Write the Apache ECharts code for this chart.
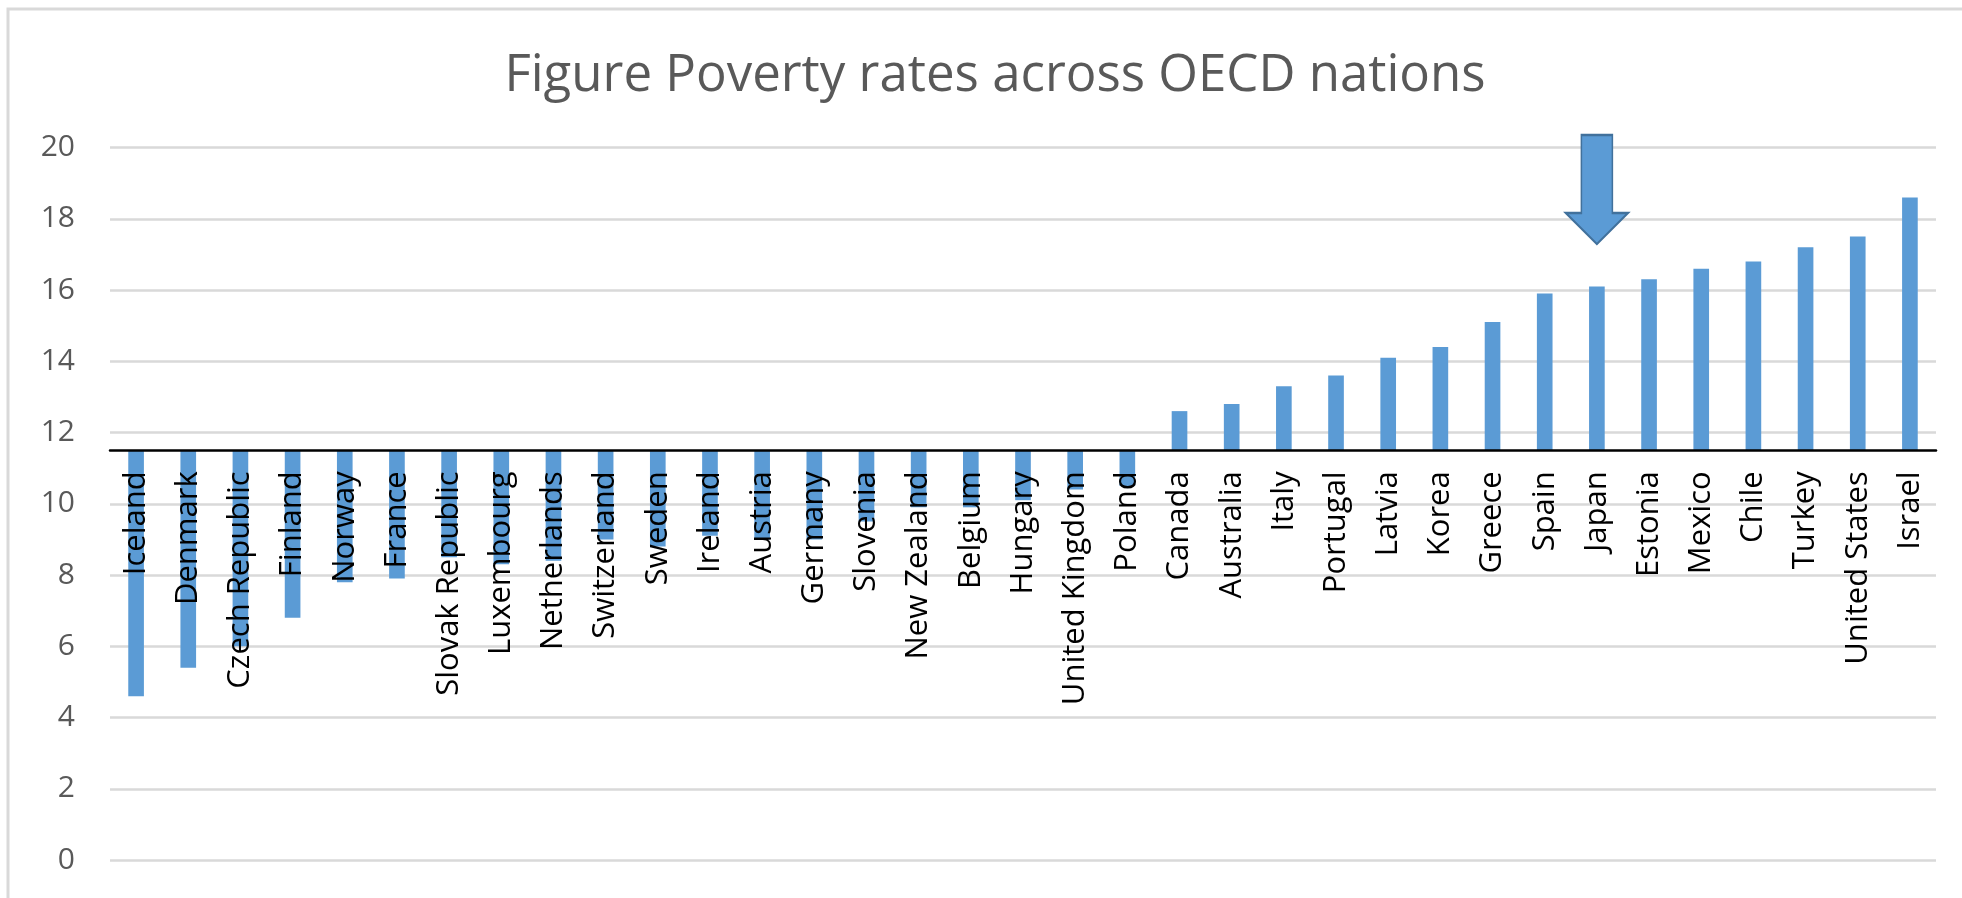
<!DOCTYPE html>
<html>
<head>
<meta charset="utf-8">
<script src="https://cdn.jsdelivr.net/npm/echarts@6/dist/echarts.min.js"></script>
<style>
html,body{margin:0;padding:0;background:#fff;}
#c{width:1962px;height:898px;}
</style>
</head>
<body>
<div id="c"></div>
<script>
// ---- data ----
const categories = ['Iceland','Denmark','Czech Republic','Finland','Norway','France','Slovak Republic','Luxembourg','Netherlands','Switzerland','Sweden','Ireland','Austria','Germany','Slovenia','New Zealand','Belgium','Hungary','United Kingdom','Poland','Canada','Australia','Italy','Portugal','Latvia','Korea','Greece','Spain','Japan','Estonia','Mexico','Chile','Turkey','United States','Israel'];
const povertyRates = [4.6,5.4,6.0,6.8,7.8,7.9,8.5,8.3,8.4,9.0,8.8,9.1,9.0,9.0,9.5,9.9,9.9,10.1,10.4,10.5,12.6,12.8,13.3,13.6,14.1,14.4,15.1,15.9,16.1,16.3,16.6,16.8,17.2,17.5,18.6];
const yTicks = [0,2,4,6,8,10,12,14,16,18,20];
const baselineValue = 11.5;          // value where the category axis crosses
const arrowCategory = 'Japan';
const arrowValue = 18.82;            // vertical centre of the arrow annotation
const titleText = 'Figure Poverty rates across OECD nations';

// ---- layout ----
const W = 1962, H = 898;
const gridTop = 147.5, gridBottom = 38, gridLeft = 110, gridRight = 26;
const gridH = H - gridTop - gridBottom;
const yMin = yTicks[0], yMax = yTicks[yTicks.length - 1];
const baselineY = gridTop + gridH * (yMax - baselineValue) / (yMax - yMin);

const chart = echarts.init(document.getElementById('c'), null, {renderer: 'canvas'});
const font = '"Open Sans", "Noto Sans", sans-serif';

const option = {
  animation: false,
  backgroundColor: '#ffffff',
  grid: [
    {top: gridTop, bottom: gridBottom, left: gridLeft, right: gridRight, containLabel: false, outerBoundsMode: 'none'},
    {top: gridTop, bottom: H - baselineY, left: gridLeft, right: gridRight, containLabel: false, outerBoundsMode: 'none'}
  ],
  graphic: [
    {type: 'rect', shape: {x: 8, y: 9, width: 2000, height: 1000}, style: {fill: 'none', stroke: '#d9d9d9', lineWidth: 3}, silent: true, z: -10},
    {type: 'text', x: 995, y: 76, style: {text: titleText, fontFamily: font, fontSize: 51, fill: '#595959', align: 'center', verticalAlign: 'middle'}, z: 10}
  ],
  xAxis: [
    {
      type: 'category', gridIndex: 0, data: categories,
      axisLine: {show: false}, axisTick: {show: false}, axisLabel: {show: false}, splitLine: {show: false}
    },
    {
      type: 'category', gridIndex: 1, data: categories, position: 'bottom',
      z: 10,
      axisLine: {show: true, onZero: false, lineStyle: {color: '#000000', width: 2.5}},
      axisTick: {show: false},
      axisLabel: {rotate: 90, interval: 0, margin: 21, fontSize: 31, color: '#000000', fontFamily: font},
      splitLine: {show: false}
    }
  ],
  yAxis: [
    {
      type: 'value', gridIndex: 0,
      min: yMin, max: yMax, interval: 2,
      axisLine: {show: false},
      axisTick: {show: false},
      axisLabel: {fontSize: 30, color: '#595959', margin: 35, fontFamily: font},
      splitLine: {show: true, lineStyle: {color: '#d9d9d9', width: 2.5}}
    },
    {
      type: 'value', gridIndex: 1, min: baselineValue, max: yMax,
      axisLine: {show: false}, axisTick: {show: false}, axisLabel: {show: false}, splitLine: {show: false}
    }
  ],
  series: [
    {
      type: 'custom',
      xAxisIndex: 0, yAxisIndex: 0,
      data: povertyRates.map((v, i) => [i, v]),
      encode: {x: 0, y: 1},
      renderItem: function (params, api) {
        const x = api.value(0), v = api.value(1);
        const p = api.coord([x, v]);
        const b = api.coord([x, baselineValue]);
        const w = api.size([1, 0])[0] * 0.3;
        return {
          type: 'rect',
          shape: {x: p[0] - w / 2, y: Math.min(p[1], b[1]), width: w, height: Math.abs(b[1] - p[1])},
          style: {fill: '#5b9bd5'}
        };
      },
      z: 2
    },
    {
      type: 'scatter',
      xAxisIndex: 0, yAxisIndex: 0,
      data: [[arrowCategory, arrowValue]],
      symbol: 'path://M15.5,0 L46.5,0 L46.5,78 L62,78 L31,109 L0,78 L15.5,78 Z',
      symbolSize: [62, 109],
      symbolKeepAspect: false,
      clip: false,
      itemStyle: {color: '#5b9bd5', borderColor: '#41719c', borderWidth: 2, opacity: 1},
      z: 5
    }
  ]
};
chart.setOption(option);
</script>
</body>
</html>
